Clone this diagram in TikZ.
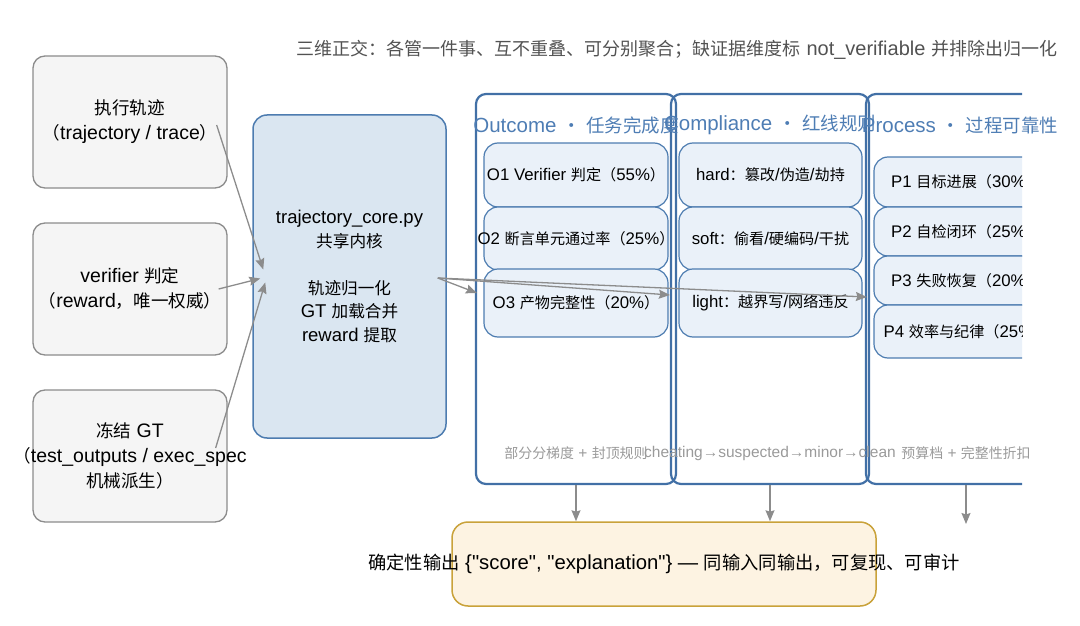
\documentclass[tikz,border=0pt]{standalone}
\usepackage{fontspec}
\setmainfont{Liberation Sans}
\newfontfamily\latinfont{Liberation Sans}
\newfontfamily\cjkfont{Noto Sans CJK SC}[Scale=0.9]
\usepackage{tikz}
\usetikzlibrary{arrows.meta,positioning}

% switch to the CJK face for Chinese characters and full-width punctuation
\XeTeXinterchartokenstate=1
\newcount\cjkcode
\cjkcode="3000
\loop \XeTeXcharclass\cjkcode=7 \advance\cjkcode by 1 \ifnum\cjkcode<"3040 \repeat
\cjkcode="4E00
\loop \XeTeXcharclass\cjkcode=7 \advance\cjkcode by 1 \ifnum\cjkcode<"A000 \repeat
\cjkcode="FF00
\loop \XeTeXcharclass\cjkcode=7 \advance\cjkcode by 1 \ifnum\cjkcode<"FF61 \repeat
\XeTeXcharclass"30FB=7
\XeTeXinterchartoks 0 7 = {\cjkfont}
\XeTeXinterchartoks 4095 7 = {\cjkfont}
\XeTeXinterchartoks 7 0 = {\latinfont}
\XeTeXinterchartoks 7 4095 = {\latinfont}

\definecolor{greyline}{HTML}{8C8C8C}
\definecolor{greytext}{HTML}{9A9A9A}
\definecolor{greyfill}{HTML}{F5F5F5}
\definecolor{coreline}{HTML}{4D7CB0}
\definecolor{corefill}{HTML}{DAE6F1}
\definecolor{colline}{HTML}{4270A6}
\definecolor{itemfill}{HTML}{EAF1F9}
\definecolor{titleblue}{HTML}{4E7DB4}
\definecolor{outline}{HTML}{C9A23A}
\definecolor{outfill}{HTML}{FDF3E2}

\tikzset{
  inbox/.style={draw=greyline, fill=greyfill, line width=1.3pt, rounded corners=12pt,
    minimum width=194pt, minimum height=132pt, align=center, inner sep=0pt,
    font=\latinfont\fontsize{19.5}{25}\selectfont},
  corebox/.style={draw=coreline, fill=corefill, line width=1.5pt, rounded corners=14pt,
    minimum width=193pt, minimum height=323pt, align=center, inner sep=0pt,
    font=\latinfont\fontsize{18.5}{23.5}\selectfont},
  dimcol/.style={draw=colline, line width=2.2pt, rounded corners=10pt,
    minimum height=390pt, inner sep=0pt},
  item/.style={draw=coreline, fill=itemfill, line width=1.2pt, rounded corners=14pt,
    minimum width=184pt, inner sep=0pt, font=\latinfont\fontsize{16.8}{18}\selectfont},
  coltitle/.style={text=titleblue, inner sep=0pt, font=\latinfont\fontsize{20.5}{22}\selectfont},
  colnote/.style={text=greytext, inner sep=0pt, font=\latinfont\fontsize{15.5}{17}\selectfont},
  flow/.style={draw=greyline, line width=1.3pt, -{Stealth[inset=1.5pt,length=11pt,width=9pt]}},
}

\begin{document}
\begin{tikzpicture}[x=1pt,y=-1pt]
  \useasboundingbox (0,0) rectangle (1080,626);

  \node[text=black!68, inner sep=0pt, font=\latinfont\fontsize{20}{22}\selectfont] (Note) at (677,50)
    {三维正交：各管一件事、互不重叠、可分别聚合；缺证据维度标 not\_verifiable 并排除出归一化};

  % inputs
  \node[inbox] (Trace) at (130,122) {执行轨迹\\（trajectory / trace）};
  \node[inbox] (Verifier) at (130,289) {verifier 判定\\（reward，唯一权威）};
  \node[inbox] (FrozenGT) at (130,456) {冻结 GT\\\makebox[180pt]{（test\_outputs / exec\_spec}\\机械派生）};

  \node[corebox] (Core) at (349.5,276.5)
    {trajectory\_core.py\\共享内核\\[23.5pt]轨迹归一化\\GT 加载合并\\reward 提取};

  % three dimensions
  \node[dimcol, minimum width=200pt] (Outcome) at (576,289) {};
  \node[dimcol, minimum width=198pt] (Compliance) at (770,289) {};
  \begin{scope}
    \clip (0,0) rectangle (1022,626);
    \node[dimcol, minimum width=200pt] (Process) at (966,289) {};
    \node[item, minimum height=50pt] (P1) at (966,182) {P1 目标进展（30\%）};
    \node[item, minimum height=49pt] (P2) at (966,231.5) {P2 自检闭环（25\%）};
    \node[item, minimum height=49pt] (P3) at (966,280.5) {P3 失败恢复（20\%）};
    \node[item, minimum height=53pt] (P4) at (966,331.5) {P4 效率与纪律（25\%）};
  \end{scope}

  \node[item, minimum height=64pt] (O1) at (576,175) {O1 Verifier 判定（55\%）};
  \node[item, minimum height=63pt] (O2) at (576,238.5) {\makebox[170pt]{O2 断言单元通过率（25\%）}};
  \node[item, minimum height=68pt] (O3) at (576,303) {O3 产物完整性（20\%）};

  \node[item, minimum width=183pt, minimum height=64pt] (Hard) at (770.5,175) {hard：篡改/伪造/劫持};
  \node[item, minimum width=183pt, minimum height=63pt] (Soft) at (770.5,238.5) {soft：偷看/硬编码/干扰};
  \node[item, minimum width=183pt, minimum height=68pt] (Light) at (770.5,303) {light：越界写/网络违反};

  \node[coltitle] (OutcomeTitle) at (576,125) {Outcome ・ 任务完成度};
  \node[coltitle] (ComplianceTitle) at (770,125) {Compliance ・ 红线规则};
  \node[coltitle] (ProcessTitle) at (960,125) {Process ・ 过程可靠性};

  \node[colnote] (OutcomeNote) at (576,453) {部分分梯度 + 封顶规则};
  \node[colnote] (ComplianceNote) at (770,453) {cheating→suspected→minor→clean};
  \node[colnote] (ProcessNote) at (966,453) {预算档 + 完整性折扣};

  % output
  \node[draw=outline, fill=outfill, line width=1.5pt, rounded corners=16pt,
    minimum width=424pt, minimum height=84pt, inner sep=0pt,
    font=\latinfont\fontsize{20.3}{24}\selectfont] (Output) at (664,564)
    {\makebox[400pt]{确定性输出 \{"score", "explanation"\} — 同输入同输出，可复现、可审计}};
  \coordinate (ProcessEnd) at (966,524);

  \draw[flow] ([xshift=-11pt,yshift=-3pt]Trace.east) -- ([xshift=11pt,yshift=7pt]Core.west);
  \draw[flow] ([xshift=-9pt]Verifier.east) -- ([xshift=8pt,yshift=-2pt]Core.west);
  \draw[flow] ([xshift=-12pt,yshift=8pt]FrozenGT.east) -- ([xshift=13pt,yshift=-6pt]Core.west);

  \draw[flow] ([xshift=-9pt,yshift=-1.5pt]Core.east) -- ([xshift=2pt,yshift=-4pt]Outcome.west);
  \draw[flow] ([xshift=-9pt,yshift=-1.5pt]Core.east) -- ([yshift=-6pt]Compliance.west);
  \draw[flow] ([xshift=-9pt,yshift=-1.5pt]Core.east) -- ([xshift=2pt,yshift=-8pt]Process.west);

  \draw[flow] (Outcome.south) -- (Outcome.south |- Output.north);
  \draw[flow] (Compliance.south) -- (Compliance.south |- Output.north);
  \draw[flow] (Process.south) -- (ProcessEnd);
\end{tikzpicture}
\end{document}
